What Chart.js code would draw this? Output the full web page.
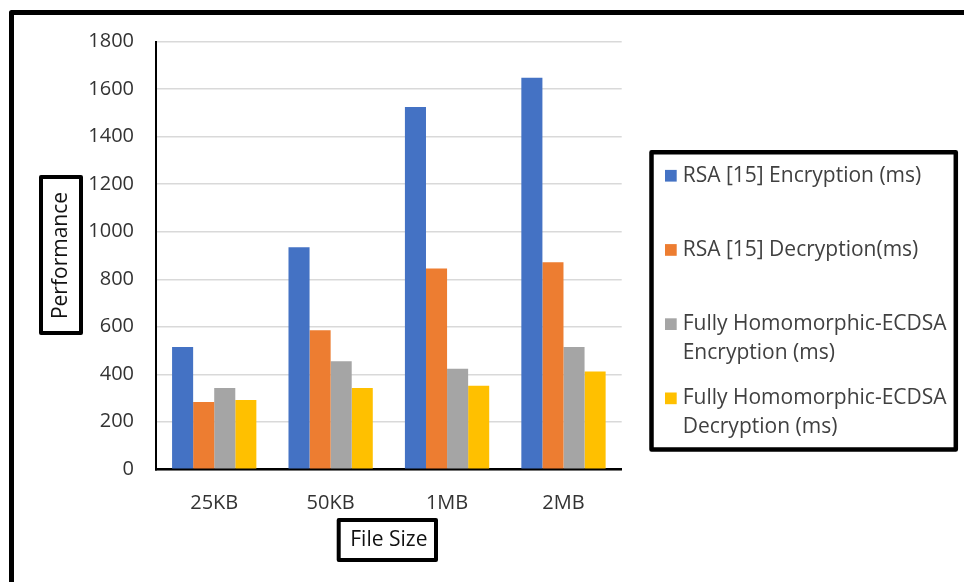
<!DOCTYPE html>
<html>
<head>
<meta charset="utf-8">
<script src="https://cdn.jsdelivr.net/npm/chart.js@4/dist/chart.umd.min.js"></script>
<style>
  html, body { margin: 0; padding: 0; background: #ffffff; }
  canvas { display: block; }
</style>
</head>
<body>
<canvas id="chart" width="964" height="582"></canvas>
<script>
// File sizes on the x axis
const fileSizes = ['25KB', '50KB', '1MB', '2MB'];

// Timings per file size (ms)
const rsaEncryption = [515, 935, 1525, 1648];
const rsaDecryption = [283, 585, 845, 872];
const fheEcdsaEncryption = [342, 455, 423, 515];
const fheEcdsaDecryption = [292, 342, 352, 412];

const seriesLabels = [
  'RSA [15] Encryption (ms)',
  'RSA [15] Decryption(ms)',
  'Fully Homomorphic-ECDSA Encryption (ms)',
  'Fully Homomorphic-ECDSA Decryption (ms)'
];
const seriesColors = ['#4472C4', '#ED7D31', '#A5A5A5', '#FFC000'];

const FONT = "'Open Sans', 'Noto Sans', sans-serif";

// Break a label into lines no wider than maxWidth
function wrapText(ctx, text, maxWidth) {
  const words = text.split(' ');
  const lines = [];
  let line = '';
  words.forEach(w => {
    const test = line ? line + ' ' + w : w;
    if (line && ctx.measureText(test).width > maxWidth) {
      lines.push(line);
      line = w;
    } else {
      line = test;
    }
  });
  if (line) lines.push(line);
  return lines;
}

// Frame around the figure, boxes round the axis titles, and the boxed legend
const decorations = {
  id: 'decorations',
  afterDraw(chart) {
    const ctx = chart.ctx;
    ctx.save();
    ctx.strokeStyle = '#000000';
    ctx.lineJoin = 'round';

    // outer frame (top and left edges)
    ctx.lineWidth = 5;
    ctx.beginPath();
    ctx.moveTo(11.5, 590);
    ctx.lineTo(11.5, 12.5);
    ctx.lineTo(970, 12.5);
    ctx.stroke();

    // axis title boxes
    ctx.lineWidth = 4;
    ctx.strokeRect(41, 177, 40, 156);
    ctx.strokeRect(338.7, 520, 97.3, 40);

    // legend frame
    ctx.lineWidth = 4.5;
    ctx.strokeRect(651.5, 152.3, 304.3, 297.2);

    // legend entries
    ctx.font = '21px ' + FONT;
    ctx.textBaseline = 'middle';
    ctx.textAlign = 'left';
    chart.data.datasets.forEach((ds, i) => {
      const y0 = 175.7 + i * 74.2;
      ctx.fillStyle = ds.backgroundColor;
      ctx.fillRect(665, y0 - 5.8, 11.7, 11.7);
      ctx.fillStyle = '#404040';
      wrapText(ctx, ds.label, 270).forEach((line, j) => {
        ctx.fillText(line, 682.7, y0 + j * 29);
      });
    });
    ctx.restore();
  }
};

const seriesValues = [rsaEncryption, rsaDecryption, fheEcdsaEncryption, fheEcdsaDecryption];

new Chart(document.getElementById('chart'), {
  type: 'bar',
  data: {
    labels: fileSizes,
    datasets: seriesValues.map((values, i) => ({
      label: seriesLabels[i],
      data: values,
      backgroundColor: seriesColors[i],
      borderWidth: 0,
      barPercentage: 1,
      categoryPercentage: 0.724
    }))
  },
  options: {
    responsive: false,
    animation: false,
    layout: { padding: { top: 41.7, right: 342.3, left: 0, bottom: 0 } },
    plugins: {
      legend: { display: false },
      tooltip: { enabled: false }
    },
    scales: {
      x: {
        afterFit(scale) { scale.height = 112.7; },
        grid: { display: false },
        border: { display: true, color: '#000000', width: 2.5 },
        ticks: {
          padding: 14,
          color: '#333333',
          font: { family: FONT, size: 20 }
        },
        title: {
          display: true,
          text: 'File Size',
          color: '#111111',
          font: { family: FONT, size: 21 },
          padding: { top: 0, bottom: 29.4 }
        }
      },
      y: {
        min: 0,
        max: 1800,
        afterFit(scale) { scale.width = 156; },
        grid: { color: '#d9d9d9', lineWidth: 1.5, drawTicks: false },
        border: { display: true, color: '#000000', width: 2 },
        ticks: {
          stepSize: 200,
          padding: 22,
          color: '#333333',
          font: { family: FONT, size: 20 },
          callback: value => String(value)
        },
        title: {
          display: true,
          text: 'Performance',
          color: '#111111',
          font: { family: FONT, size: 21 },
          padding: { top: 48.4, bottom: 0 }
        }
      }
    }
  },
  plugins: [decorations]
});
</script>
</body>
</html>
